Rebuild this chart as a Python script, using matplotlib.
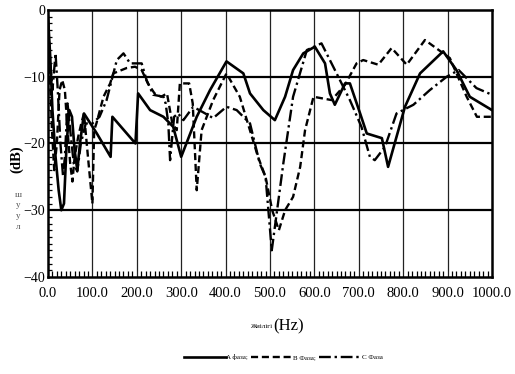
import numpy as np
import matplotlib
matplotlib.use("Agg")
import matplotlib.pyplot as plt
from matplotlib.ticker import MultipleLocator, FixedLocator

# Phase A (solid)
a_hz = [0, 5, 10, 17, 24, 30, 36, 42, 48, 54, 60, 66, 72, 81, 110, 141, 145, 197,
        203, 230, 260, 282, 300, 335, 365, 402, 440, 455, 485, 511, 534, 552, 575,
        601, 624, 635, 646, 669, 680, 703, 718, 752, 766, 785, 804, 838, 890, 920,
        950, 1000]
a_db = [-1, -7, -15, -22, -27, -30, -29, -20, -15, -16, -21, -24, -20, -15.5, -18.5,
        -22, -16, -20, -12.5, -15, -16, -17.5, -22, -16, -12, -7.7, -9.5, -12.5, -15,
        -16.5, -13, -9, -6.5, -5.5, -8, -12.5, -14.2, -11, -11, -15.5, -18.5, -19.2,
        -23.5, -19, -14.5, -9.5, -6.2, -9, -13, -15]

# Phase B (dashed)
b_hz = [0, 4, 9, 14, 20, 26, 32, 38, 44, 50, 55, 60, 68, 75, 81, 90, 100, 104, 109,
        125, 140, 147, 177, 196, 211, 225, 240, 255, 268, 280, 290, 297, 318, 326,
        335, 346, 372, 402, 432, 473, 490, 505, 520, 534, 552, 568, 579, 598, 639,
        669, 695, 710, 744, 774, 808, 849, 905, 943, 966, 1000]
b_db = [-2, -9, -18, -24, -20, -12, -10.5, -12, -18, -23, -25.7, -22, -19, -17, -15.5,
        -22, -29, -18, -17, -13, -11, -9.5, -8.7, -8.5, -9, -11, -12.5, -13, -12.5,
        -17, -18, -11, -11, -14, -27, -18, -13.5, -9.5, -13, -22, -25, -30, -33, -30,
        -28, -23.5, -18, -13, -13.5, -11.2, -8, -7.5, -8.2, -5.7, -8.2, -4.5, -7.2,
        -13, -16, -16]

# Phase C (dash-dot)
c_hz = [0, 5, 10, 17, 22, 28, 34, 38, 44, 50, 58, 66, 74, 85, 100, 116, 132, 155,
        170, 185, 211, 222, 237, 260, 265, 271, 275, 284, 293, 305, 327, 354, 372,
        402, 425, 455, 477, 490, 504, 530, 552, 583, 616, 650, 680, 706, 725, 736,
        759, 785, 823, 860, 898, 925, 965, 1000]
c_db = [-1.5, -8, -12, -6.5, -12, -20, -25, -22, -14, -18, -23, -24.2, -20, -17, -17,
        -16, -13.5, -7.5, -6.5, -8, -8, -10.5, -12.7, -13, -14, -17, -22.5, -16,
        -15.5, -16.5, -14.5, -15.5, -16.2, -14.5, -15, -17, -23, -25, -36, -23, -13,
        -6, -5, -9.5, -13.5, -17.5, -22, -22.5, -20.5, -15.5, -14.2, -12, -10, -9,
        -11.7, -12.7]

x_ticks = [0, 100, 200, 300, 400, 500, 600, 700, 800, 900, 1000]
x_labels = ["0.0", "100.0", "200.0", "300.0", "400.0", "500.0", "600.0",
            "700.0", "800.0", "900.0", "1000.0"]
y_ticks = [0, -10, -20, -30, -40]

plt.rcParams["font.family"] = ["Liberation Serif", "DejaVu Serif"]

fig = plt.figure(figsize=(5.15, 3.74), dpi=100)
ax = fig.add_axes([0.0932, 0.2594, 0.8621, 0.7139])

ax.plot(a_hz, a_db, color="black", lw=1.9, ls="-", label="A фаза;")
ax.plot(b_hz, b_db, color="black", lw=1.7, ls=(0, (3.0, 1.6)), label="B Фаза;")
ax.plot(c_hz, c_db, color="black", lw=1.7, ls=(0, (5.0, 1.6, 1.0, 1.6)), label="C Фаза")

for x in x_ticks[1:-1]:
    ax.axvline(x, color="#222222", lw=0.9, zorder=0)
for y in y_ticks[1:-1]:
    ax.axhline(y, color="black", lw=1.6, zorder=0)

ax.set_xlim(0, 1000)
ax.set_ylim(-40, 0)
ax.xaxis.set_major_locator(FixedLocator(x_ticks))
ax.set_xticklabels(x_labels)
ax.yaxis.set_major_locator(FixedLocator(y_ticks))
ax.set_yticklabels(["0", "\u221210", "\u221220", "\u221230", "\u221240"])
ax.xaxis.set_minor_locator(MultipleLocator(10))
ax.yaxis.set_minor_locator(MultipleLocator(1))
ax.tick_params(axis="x", which="major", length=0, labelsize=10.5, pad=7)
ax.tick_params(axis="y", which="major", length=0, labelsize=10, pad=2)
ax.tick_params(axis="x", which="minor", direction="in", length=4, width=0.9)
ax.tick_params(axis="y", which="minor", direction="in", length=3, width=0.9)
for s in ax.spines.values():
    s.set_linewidth(1.8)
    s.set_color("black")

# y label: rotated unit plus upright stacked letters
fig.text(0.033, 0.575, "(dB)", rotation=90, ha="center", va="center",
         fontsize=10.5, fontweight="bold")
fig.text(0.035, 0.437, "ш\nу\nу\nл", ha="center", va="center",
         fontsize=6.5, color="#555555", linespacing=1.45)

# x label
fig.text(0.528, 0.128, "Жиілігі", ha="right", va="center", fontsize=5)
fig.text(0.530, 0.128, "(Hz)", ha="left", va="center", fontsize=12)

leg = fig.legend(loc="center", bbox_to_anchor=(0.55, 0.045), ncol=3, frameon=False,
                 fontsize=5, handlelength=6, handletextpad=0.1, columnspacing=0.4)

fig.savefig("out.png", dpi=100)
